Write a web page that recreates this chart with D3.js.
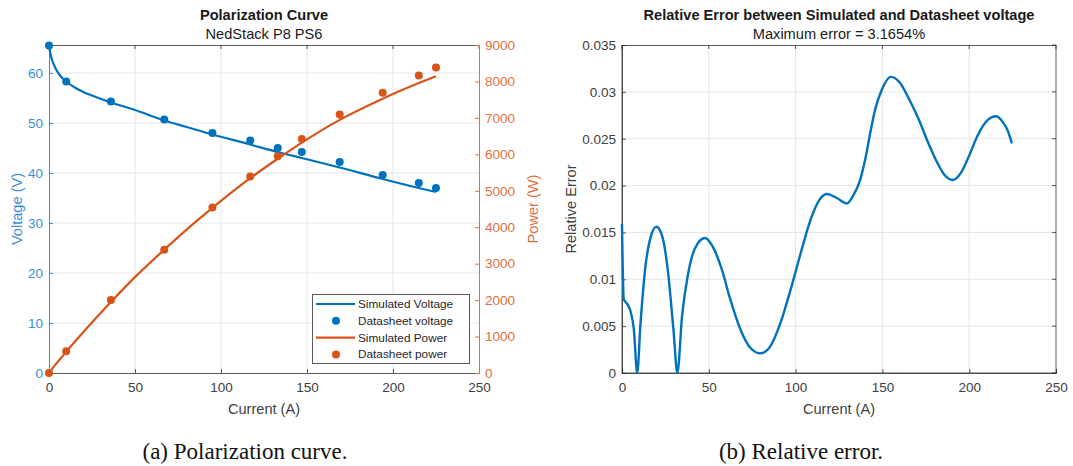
<!DOCTYPE html>
<html>
<head>
<meta charset="utf-8">
<script src="https://cdn.jsdelivr.net/npm/d3@7"></script>
<style>
  html, body { margin: 0; padding: 0; background: #fff; }
  svg { display: block; }
</style>
</head>
<body>
<svg id="chart" width="1073" height="466"></svg>
<script>
// ---------------- DATA ----------------
const dsCurrent = [0, 10, 36, 67, 95, 117, 133, 147, 169, 194, 215, 225];
const dsVoltage = [65.5, 58.3, 54.3, 50.7, 48.0, 46.5, 45.0, 44.2, 42.2, 39.6, 38.0, 37.0];
const dsPower   = [0, 600, 2000, 3380, 4540, 5390, 5950, 6420, 7090, 7690, 8160, 8380];

const simCurrent = [0, 1, 2, 4, 6, 8, 10, 15, 20, 28, 36, 50, 67, 80, 95, 117, 133, 147, 169, 194, 215, 225];
const simVoltage = [65.5, 63.6, 62.4, 60.8, 59.7, 58.9, 58.3, 57.1, 56.2, 55.1, 54.1, 52.6, 50.5, 49.2, 47.7, 45.7, 44.2, 43.0, 41.1, 38.8, 37.0, 36.2];
const simPower   = [0, 64, 125, 243, 358, 471, 583, 857, 1124, 1543, 1948, 2630, 3384, 3936, 4532, 5347, 5879, 6321, 6946, 7527, 7955, 8145];

const errCurrent = [0, 1, 2.9, 4.9, 6.8, 8.75, 10.7, 13.6, 16.5, 19.8, 23, 26.3, 29.6, 31.9, 34.6, 37.9, 41.8, 47.7, 52.5, 57.4, 62.3, 68.1, 73.9, 79.8, 85.6, 91.4, 97.3, 103.1, 108.9, 113.8, 118.1, 123.5, 129.5, 133.4, 137.2, 140.1, 143, 145.8, 149.6, 154.8, 160, 164.9, 170.6, 176.3, 182, 185.9, 190.6, 195.4, 200.2, 205, 210.7, 215.5, 219.3, 222.1, 224.6];
const errValue   = [0.0159, 0.0079, 0.0074, 0.0066, 0.0047, 0.0, 0.0054, 0.0115, 0.0145, 0.0156, 0.0147, 0.0111, 0.0047, 0.0, 0.0061, 0.0104, 0.0132, 0.0144, 0.0134, 0.0111, 0.0079, 0.0047, 0.0027, 0.0021, 0.0029, 0.0054, 0.0090, 0.0129, 0.0165, 0.0185, 0.0191, 0.0187, 0.0181, 0.0190, 0.0206, 0.0228, 0.0256, 0.0281, 0.0302, 0.0316, 0.0310, 0.0294, 0.0272, 0.0246, 0.0223, 0.0211, 0.0206, 0.0214, 0.0233, 0.0254, 0.0270, 0.0274, 0.0268, 0.0259, 0.0245];

const xTicks = [0, 50, 100, 150, 200, 250];
const vTicks = [0, 10, 20, 30, 40, 50, 60];
const pTicks = [0, 1000, 2000, 3000, 4000, 5000, 6000, 7000, 8000, 9000];
const eTicks = [0, 0.005, 0.01, 0.015, 0.02, 0.025, 0.03, 0.035];
const legendLabels = ["Simulated Voltage", "Datasheet voltage", "Simulated Power", "Datasheet power"];

// ---------------- STYLE ----------------
const BLUE = "#0072BD", ORANGE = "#D95319";
const BLUE_AX = "#3b8fd3", ORANGE_AX = "#e0703d";
const AX = "#262626", GRID = "#e6e6e6", TICKTXT = "#404040";
const SANS = "'Liberation Sans', Arial, sans-serif";
const SERIF = "'Liberation Serif', 'DejaVu Serif', serif";
const TICK_FS = 13.5, LAB_FS = 14.6;
const svg = d3.select("#chart").style("font-family", SANS);

function styleAxis(sel, color, opacity) {
  sel.attr("font-family", SANS);
  sel.select(".domain").attr("stroke", color).attr("stroke-opacity", opacity);
  sel.selectAll(".tick line").attr("stroke", color).attr("stroke-opacity", opacity);
  sel.selectAll("text").attr("fill", color === AX ? TICKTXT : color).attr("font-size", TICK_FS);
}

// ================= LEFT CHART =================
const L = {left: 49, right: 479, top: 45, bottom: 373};
const x1 = d3.scaleLinear().domain([0, 250]).range([L.left, L.right]);
const yV = d3.scaleLinear().domain([0, 65.6]).range([L.bottom, L.top]);
const yP = d3.scaleLinear().domain([0, 9000]).range([L.bottom, L.top]);

const g1 = svg.append("g");
g1.selectAll(".gx").data(xTicks.slice(1, -1)).enter().append("line")
  .attr("x1", d => x1(d)).attr("x2", d => x1(d)).attr("y1", L.top).attr("y2", L.bottom)
  .attr("stroke", GRID).attr("stroke-width", 1);
g1.selectAll(".gy").data(vTicks.slice(1)).enter().append("line")
  .attr("y1", d => yV(d)).attr("y2", d => yV(d)).attr("x1", L.left).attr("x2", L.right)
  .attr("stroke", GRID).attr("stroke-width", 1);

g1.append("line").attr("x1", L.left).attr("x2", L.right).attr("y1", L.top + 0.5).attr("y2", L.top + 0.5)
  .attr("stroke", AX).attr("stroke-opacity", 0.75);

const ax1 = g1.append("g").attr("transform", `translate(0,${L.bottom})`)
  .call(d3.axisBottom(x1).tickValues(xTicks).tickSize(-4).tickPadding(9).tickFormat(d3.format("d")));
styleAxis(ax1, AX, 0.75);
g1.selectAll(".tt").data(xTicks).enter().append("line")
  .attr("x1", d => x1(d)).attr("x2", d => x1(d)).attr("y1", L.top).attr("y2", L.top + 4)
  .attr("stroke", AX).attr("stroke-opacity", 0.75);

const axV = g1.append("g").attr("transform", `translate(${L.left},0)`)
  .call(d3.axisLeft(yV).tickValues(vTicks).tickSize(-4).tickPadding(6).tickFormat(d3.format("d")));
styleAxis(axV, BLUE_AX, 1);

const axP = g1.append("g").attr("transform", `translate(${L.right},0)`)
  .call(d3.axisRight(yP).tickValues(pTicks).tickSize(-4).tickPadding(6).tickFormat(d3.format("d")));
styleAxis(axP, ORANGE_AX, 1);

const lineV = d3.line().x((d, i) => x1(simCurrent[i])).y(d => yV(d)).curve(d3.curveMonotoneX);
const lineP = d3.line().x((d, i) => x1(simCurrent[i])).y(d => yP(d)).curve(d3.curveMonotoneX);
g1.append("path").datum(simVoltage).attr("d", lineV).attr("fill", "none").attr("stroke", BLUE).attr("stroke-width", 2.2);
g1.append("path").datum(simPower).attr("d", lineP).attr("fill", "none").attr("stroke", ORANGE).attr("stroke-width", 2.2);
g1.selectAll(".mv").data(dsVoltage).enter().append("circle")
  .attr("cx", (d, i) => x1(dsCurrent[i])).attr("cy", d => yV(d)).attr("r", 4).attr("fill", BLUE);
g1.selectAll(".mp").data(dsPower).enter().append("circle")
  .attr("cx", (d, i) => x1(dsCurrent[i])).attr("cy", d => yP(d)).attr("r", 4).attr("fill", ORANGE);

g1.append("text").attr("x", (L.left + L.right) / 2).attr("y", 20).attr("text-anchor", "middle")
  .attr("font-size", LAB_FS).attr("font-weight", "bold").attr("fill", "#1a1a1a").text("Polarization Curve");
g1.append("text").attr("x", (L.left + L.right) / 2).attr("y", 39).attr("text-anchor", "middle")
  .attr("font-size", LAB_FS).attr("fill", "#1a1a1a").text("NedStack P8 PS6");
g1.append("text").attr("x", (L.left + L.right) / 2).attr("y", 414).attr("text-anchor", "middle")
  .attr("font-size", LAB_FS).attr("fill", TICKTXT).text("Current (A)");
g1.append("text").attr("transform", `translate(22,${(L.top + L.bottom) / 2}) rotate(-90)`).attr("text-anchor", "middle")
  .attr("font-size", LAB_FS).attr("fill", BLUE_AX).text("Voltage (V)");
g1.append("text").attr("transform", `translate(538,${(L.top + L.bottom) / 2}) rotate(-90)`).attr("text-anchor", "middle")
  .attr("font-size", LAB_FS).attr("fill", ORANGE_AX).text("Power (W)");

const lg = g1.append("g").attr("transform", "translate(312,294)");
lg.append("rect").attr("x", 0.5).attr("y", 0.5).attr("width", 157).attr("height", 69)
  .attr("fill", "#fff").attr("stroke", AX).attr("stroke-opacity", 0.75);
const legColors = [BLUE, BLUE, ORANGE, ORANGE];
const legType = ["line", "dot", "line", "dot"];
legendLabels.forEach((lab, i) => {
  const yy = 10 + i * 16.8;
  if (legType[i] === "line") {
    lg.append("line").attr("x1", 4).attr("x2", 43).attr("y1", yy).attr("y2", yy)
      .attr("stroke", legColors[i]).attr("stroke-width", 2.2);
  } else {
    lg.append("circle").attr("cx", 24).attr("cy", yy).attr("r", 4).attr("fill", legColors[i]);
  }
  lg.append("text").attr("x", 46).attr("y", yy + 4).attr("font-size", 11.8).attr("fill", AX).text(lab);
});

// ================= RIGHT CHART =================
const R = {left: 622, right: 1056, top: 45, bottom: 373};
const x2 = d3.scaleLinear().domain([0, 250]).range([R.left, R.right]);
const yE = d3.scaleLinear().domain([0, 0.035]).range([R.bottom, R.top]);
const g2 = svg.append("g");

g2.selectAll(".gx").data(xTicks.slice(1, -1)).enter().append("line")
  .attr("x1", d => x2(d)).attr("x2", d => x2(d)).attr("y1", R.top).attr("y2", R.bottom)
  .attr("stroke", GRID);
g2.selectAll(".gy").data(eTicks.slice(1, -1)).enter().append("line")
  .attr("y1", d => yE(d)).attr("y2", d => yE(d)).attr("x1", R.left).attr("x2", R.right)
  .attr("stroke", GRID);

g2.append("rect").attr("x", R.left).attr("y", R.top + 0.5).attr("width", R.right - R.left).attr("height", R.bottom - R.top - 0.5)
  .attr("fill", "none").attr("stroke", AX).attr("stroke-opacity", 0.75);

const ax2 = g2.append("g").attr("transform", `translate(0,${R.bottom})`)
  .call(d3.axisBottom(x2).tickValues(xTicks).tickSize(-4).tickPadding(9).tickFormat(d3.format("d")));
styleAxis(ax2, AX, 0.75);

const ayE = g2.append("g").attr("transform", `translate(${R.left},0)`)
  .call(d3.axisLeft(yE).tickValues(eTicks).tickSize(-4).tickPadding(6).tickFormat(d => d === 0 ? "0" : String(+d.toFixed(3))));
styleAxis(ayE, AX, 0.75);
g2.selectAll(".tt").data(xTicks).enter().append("line")
  .attr("x1", d => x2(d)).attr("x2", d => x2(d)).attr("y1", R.top).attr("y2", R.top + 4)
  .attr("stroke", AX).attr("stroke-opacity", 0.75);
g2.selectAll(".rt").data(eTicks).enter().append("line")
  .attr("y1", d => yE(d)).attr("y2", d => yE(d)).attr("x1", R.right - 4).attr("x2", R.right)
  .attr("stroke", AX).attr("stroke-opacity", 0.75);

const lineE = d3.line().x((d, i) => x2(errCurrent[i])).y(d => yE(d)).curve(d3.curveMonotoneX);
g2.append("path").datum(errValue).attr("d", lineE).attr("fill", "none").attr("stroke", BLUE).attr("stroke-width", 2.4);

g2.append("text").attr("x", (R.left + R.right) / 2).attr("y", 20).attr("text-anchor", "middle")
  .attr("font-size", LAB_FS).attr("font-weight", "bold").attr("fill", "#1a1a1a").text("Relative Error between Simulated and Datasheet voltage");
g2.append("text").attr("x", (R.left + R.right) / 2).attr("y", 39).attr("text-anchor", "middle")
  .attr("font-size", LAB_FS).attr("fill", "#1a1a1a").text("Maximum error = 3.1654%");
g2.append("text").attr("x", (R.left + R.right) / 2).attr("y", 414).attr("text-anchor", "middle")
  .attr("font-size", LAB_FS).attr("fill", TICKTXT).text("Current (A)");
g2.append("text").attr("transform", `translate(576,${(R.top + R.bottom) / 2}) rotate(-90)`).attr("text-anchor", "middle")
  .attr("font-size", LAB_FS).attr("fill", TICKTXT).text("Relative Error");

// captions
svg.append("text").attr("x", 245).attr("y", 459).attr("text-anchor", "middle")
  .style("font-family", SERIF).attr("font-size", 23).attr("fill", "#111")
  .text("(a) Polarization curve.");
svg.append("text").attr("x", 801).attr("y", 459).attr("text-anchor", "middle")
  .style("font-family", SERIF).attr("font-size", 23).attr("fill", "#111")
  .text("(b) Relative error.");
</script>
</body>
</html>
